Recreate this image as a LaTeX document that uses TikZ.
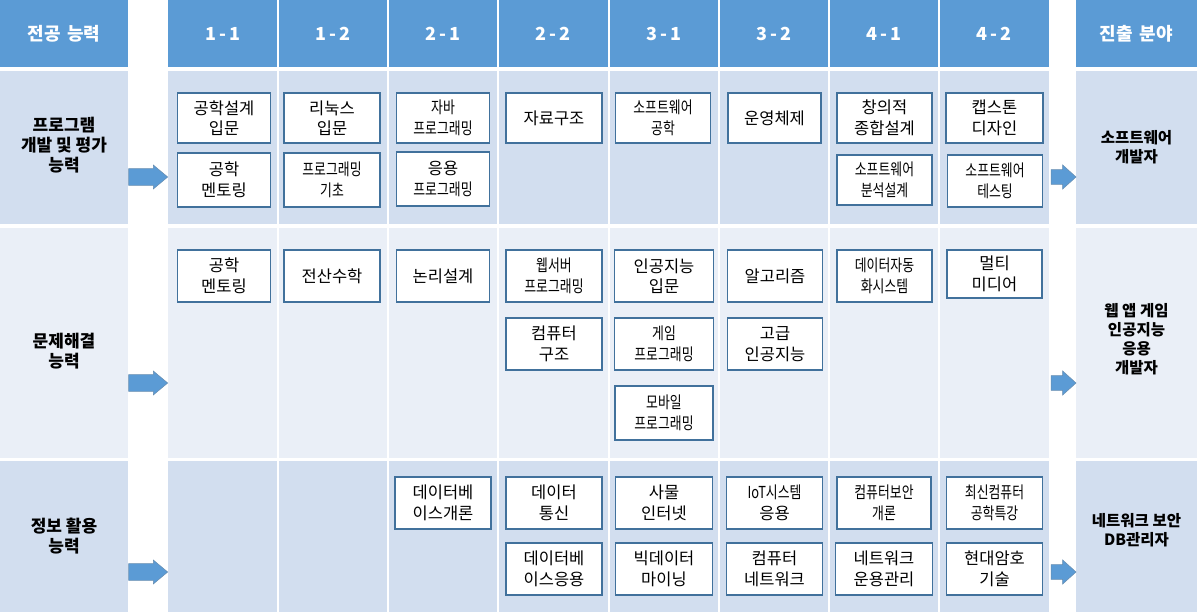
\documentclass[tikz,border=0pt]{standalone}
\usepackage{fontspec}
\setmainfont{Noto Sans CJK KR}
\newfontfamily\condfont[FakeStretch=0.78]{Noto Sans CJK KR}
\definecolor{hdr}{HTML}{5B9BD5}
\definecolor{bandA}{HTML}{D2DEEF}
\definecolor{bandB}{HTML}{EAEFF7}
\definecolor{boxline}{HTML}{41719C}
\tikzset{
  cbox/.style={draw=boxline, line width=1.1pt, fill=white, minimum width=93pt,
    minimum height=50pt, align=center, inner sep=1pt,
    font=\fontsize{16.5}{20.5}\selectfont},
  hdrtext/.style={text=white, font=\bfseries\fontsize{18}{20}\selectfont},
  sidetext/.style={align=center, font=\bfseries\fontsize{17}{20}\selectfont},
  outtext/.style={align=center, font=\bfseries\fontsize{15.5}{19}\selectfont},
  blockarrow/.style={fill=hdr, draw=boxline!80, line width=0.5pt},
  sep/.style={white, line width=2pt}
}
\begin{document}
\begin{tikzpicture}[x=1pt,y=-1pt]
\useasboundingbox (0,0) rectangle (1197,612);
\fill[white] (0,0) rectangle (1197,612);
% header row
\fill[hdr] (0,0) rectangle (128,67);
\fill[hdr] (168,0) rectangle (1049,67);
\fill[hdr] (1076,0) rectangle (1197,67);
% band rows
\fill[bandA] (0,71) rectangle (128,224);
\fill[bandA] (168,71) rectangle (1049,224);
\fill[bandA] (1076,71) rectangle (1197,224);
\fill[bandB] (0,228) rectangle (128,458);
\fill[bandB] (168,228) rectangle (1049,458);
\fill[bandB] (1076,228) rectangle (1197,458);
\fill[bandA] (0,461) rectangle (128,612);
\fill[bandA] (168,461) rectangle (1049,612);
\fill[bandA] (1076,461) rectangle (1197,612);
% column separators
\foreach \x in {278.1,388.3,498.4,608.5,718.6,828.8,938.9}
  \draw[sep] (\x,0) -- (\x,612);

% header texts
\node[hdrtext] (hL) at (64,33.5) {전공\hspace{0.15em} 능력};
\node[hdrtext] (h11) at (223.1,33.5) {1\,-\,1};
\node[hdrtext] (h12) at (333.2,33.5) {1\,-\,2};
\node[hdrtext] (h21) at (443.3,33.5) {2\,-\,1};
\node[hdrtext] (h22) at (553.4,33.5) {2\,-\,2};
\node[hdrtext] (h31) at (663.6,33.5) {3\,-\,1};
\node[hdrtext] (h32) at (773.7,33.5) {3\,-\,2};
\node[hdrtext] (h41) at (883.8,33.5) {4\,-\,1};
\node[hdrtext] (h42) at (993.9,33.5) {4\,-\,2};
\node[hdrtext] (hR) at (1136.5,33.5) {진출\hspace{0.15em} 분야};

% side labels
\node[sidetext] (s1) at (64,145) {프로그램\\개발 및 평가\\능력};
\node[sidetext] (s2) at (64,351) {문제해결\\능력};
\node[sidetext] (s3) at (64,536) {정보 활용\\능력};
\node[outtext] (o1) at (1136.5,147) {소프트웨어\\개발자};
\node[outtext] (o2) at (1136.5,339) {웹 앱 게임\\인공지능\\응용\\개발자};
\node[outtext] (o3) at (1136.5,530) {네트워크 보안\\DB관리자};

% block arrows
\foreach \yy in {177,383,572}{
  \draw[blockarrow] (128.5,\yy-8.3) -- (153.3,\yy-8.3) -- (153.3,\yy-12) -- (167.7,\yy)
     -- (153.3,\yy+12) -- (153.3,\yy+8.3) -- (128.5,\yy+8.3) -- cycle;
  \draw[blockarrow] (1051,\yy-7.3) -- (1062.7,\yy-7.3) -- (1062.7,\yy-12) -- (1076,\yy)
     -- (1062.7,\yy+12) -- (1062.7,\yy+7.3) -- (1051,\yy+7.3) -- cycle;
}

% row 1 boxes
\node[cbox] (a11a) at (224,118) {공학설계\\입문};
\node[cbox, minimum height=54pt] (a11b) at (224,180) {공학\\멘토링};
\node[cbox, minimum width=96pt] (a12a) at (332,118) {리눅스\\입문};
\node[cbox, minimum width=96pt, minimum height=54pt] (a12b) at (332,180) {\condfont 프로그래밍\\\condfont 기초};
\node[cbox] (a21a) at (443,118) {\condfont 자바\\\condfont 프로그래밍};
\node[cbox, minimum height=54pt] (a21b) at (443,179) {응용\\\condfont 프로그래밍};
\node[cbox, minimum width=96pt] (a22a) at (554,118) {자료구조};
\node[cbox, minimum width=95pt] (a31a) at (663,118) {\condfont 소프트웨어\\\condfont 공학};
\node[cbox] (a32a) at (774.5,118) {운영체제};
\node[cbox, minimum width=95pt] (a41a) at (884.5,118) {창의적\\종합설계};
\node[cbox, minimum width=95pt] (a41b) at (884.5,180) {\condfont 소프트웨어\\\condfont 분석설계};
\node[cbox, minimum width=97pt] (a42a) at (994.5,118) {캡스톤\\디자인};
\node[cbox, minimum width=95pt, minimum height=52pt] (a42b) at (995,181) {\condfont 소프트웨어\\\condfont 테스팅};

% row 2 boxes
\node[cbox, minimum height=52pt] (b11a) at (224,276) {공학\\멘토링};
\node[cbox, minimum width=96pt, minimum height=52pt] (b12a) at (332,276) {전산수학};
\node[cbox, minimum height=52pt] (b21a) at (443,276) {논리설계};
\node[cbox, minimum width=96pt, minimum height=52pt] (b22a) at (554,276) {\condfont 웹서버\\\condfont 프로그래밍};
\node[cbox, minimum width=96pt, minimum height=52pt] (b22b) at (554,344) {컴퓨터\\구조};
\node[cbox, minimum width=99pt, minimum height=52pt] (b31a) at (664,276) {인공지능\\입문};
\node[cbox, minimum width=99pt, minimum height=52pt] (b31b) at (664,344) {\condfont 게임\\\condfont 프로그래밍};
\node[cbox, minimum width=98pt, minimum height=54pt] (b31c) at (664,413) {\condfont 모바일\\\condfont 프로그래밍};
\node[cbox, minimum width=95pt, minimum height=52pt] (b32a) at (775,276) {알고리즘};
\node[cbox, minimum width=95pt, minimum height=52pt] (b32b) at (775,344) {고급\\인공지능};
\node[cbox, minimum width=95pt, minimum height=52pt] (b41a) at (884.5,276) {\condfont 데이터자동\\\condfont 화시스템};
\node[cbox, minimum width=95pt, minimum height=48pt] (b42a) at (994.5,274) {멀티\\미디어};

% row 3 boxes
\node[cbox, minimum width=96pt, minimum height=52pt] (c21a) at (443,503) {데이터베\\이스개론};
\node[cbox, minimum width=96pt, minimum height=52pt] (c22a) at (554,503) {데이터\\통신};
\node[cbox, minimum width=96pt, minimum height=52pt] (c22b) at (554,569) {데이터베\\이스응용};
\node[cbox, minimum width=97pt, minimum height=52pt] (c31a) at (664,503) {사물\\인터넷};
\node[cbox, minimum width=97pt, minimum height=52pt] (c31b) at (664,569) {빅데이터\\마이닝};
\node[cbox, minimum width=96pt, minimum height=52pt] (c32a) at (774.5,503) {\condfont IoT시스템\\응용};
\node[cbox, minimum width=96pt, minimum height=52pt] (c32b) at (774.5,569) {컴퓨터\\네트워크};
\node[cbox, minimum width=94pt, minimum height=52pt] (c41a) at (884,503) {\condfont 컴퓨터보안\\\condfont 개론};
\node[cbox, minimum width=97pt, minimum height=52pt] (c41b) at (884,569) {네트워크\\운용관리};
\node[cbox, minimum width=96pt, minimum height=52pt] (c42a) at (994.5,503) {\condfont 최신컴퓨터\\\condfont 공학특강};
\node[cbox, minimum width=96pt, minimum height=52pt] (c42b) at (994.5,569) {현대암호\\기술};
\end{tikzpicture}
\end{document}
